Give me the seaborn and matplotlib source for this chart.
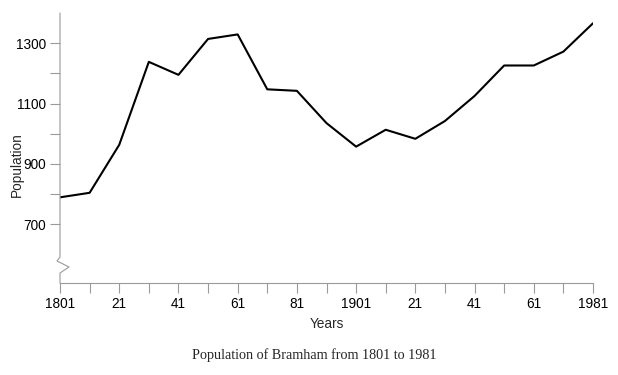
import matplotlib
matplotlib.use("Agg")
import matplotlib.pyplot as plt
import seaborn as sns
import pandas as pd

years = [1801, 1811, 1821, 1831, 1841, 1851, 1861, 1871, 1881, 1891,
         1901, 1911, 1921, 1931, 1941, 1951, 1961, 1971, 1981]
population = [789, 804, 963, 1238, 1195, 1314, 1329, 1147, 1142, 1035,
              957, 1013, 983, 1042, 1125, 1226, 1226, 1272, 1366]
x_major = [1801, 1821, 1841, 1861, 1881, 1901, 1921, 1941, 1961, 1981]
x_major_labels = ["1801", "21", "41", "61", "81", "1901", "21", "41", "61", "1981"]
x_minor = [1811, 1831, 1851, 1871, 1891, 1911, 1931, 1951, 1971]
y_major = [700, 900, 1100, 1300]
y_minor = [800, 1000, 1200]

df = pd.DataFrame({"Years": years, "Population": population})

sns.set_style("white")
plt.rcParams["font.family"] = ["Liberation Sans", "DejaVu Sans"]

fig = plt.figure(figsize=(6.18, 3.75), dpi=100)
ax = fig.add_axes([60 / 618, 1 - 283 / 375, 533 / 618, 270 / 375])

sns.lineplot(data=df, x="Years", y="Population", color="black", linewidth=1.5, ax=ax)

ax.set_xlim(1801, 1981)
ax.set_ylim(505, 1400)

gray = "#9a9a9a"
for s in ["top", "right", "left"]:
    ax.spines[s].set_visible(False)
ax.spines["bottom"].set_color(gray)
ax.spines["bottom"].set_linewidth(0.8)

# broken y axis drawn manually
W, H = 533.0, 270.0
def px(dx, dy_from_bottom):
    return (dx / W, dy_from_bottom / H)
pts = [(0, 270), (0, 283 - 257), (-3, 283 - 261), (9, 283 - 267), (0, 283 - 273), (0, 0)]
xs = [px(a, b)[0] for a, b in pts]
ys = [px(a, b)[1] for a, b in pts]
ax.plot(xs, ys, color=gray, linewidth=0.8, transform=ax.transAxes, clip_on=False)

ax.set_xticks(x_major)
ax.set_xticklabels(x_major_labels)
ax.set_xticks(x_minor, minor=True)
ax.set_yticks(y_major)
ax.set_yticks(y_minor, minor=True)

ax.tick_params(axis="both", which="both", direction="out", color=gray, width=0.8,
               length=7, labelsize=9.8, labelcolor="black", pad=3)
ax.tick_params(axis="both", which="minor", length=7)
ax.tick_params(axis="y", which="both", left=True)
ax.tick_params(axis="x", which="both", bottom=True)

ax.set_xlabel("Years", fontsize=9.8)
ax.set_ylabel("Population", fontsize=9.8)
ax.xaxis.set_label_coords(0.5, -0.125)
ax.yaxis.set_label_coords(-0.067, 0.44)

fig.text(314 / 618, 1 - 355 / 375, "Population of Bramham from 1801 to 1981",
         ha="center", va="center", fontsize=10.2, family=["Liberation Serif", "DejaVu Serif"])

fig.savefig("out.png", dpi=100)
